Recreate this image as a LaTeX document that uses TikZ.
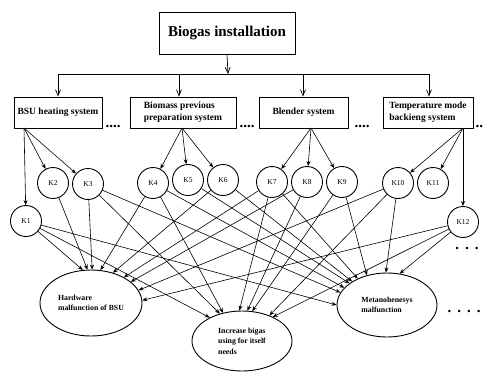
\documentclass[tikz,border=0pt]{standalone}
\usepackage{fontspec}
\setmainfont{Liberation Serif}
\usetikzlibrary{shapes.geometric,arrows.meta}
\begin{document}
\begin{tikzpicture}[x=1pt,y=-1pt,
  sysbox/.style={draw,line width=0.9pt,inner sep=0pt,align=left,font=\bfseries\fontsize{9.5}{12}\selectfont},
  kcirc/.style={circle,draw,line width=0.9pt,minimum size=31pt,inner sep=0pt,font=\fontsize{7.5}{8}\selectfont},
  outc/.style={ellipse,draw,line width=0.9pt,inner sep=0pt,align=left,font=\bfseries\fontsize{7.8}{10.5}\selectfont},
  topar/.style={-{Straight Barb[length=6pt,width=5pt]},line width=0.7pt},
  kar/.style={-{Stealth[length=5pt,width=4pt]},line width=0.6pt},
  dotsn/.style={anchor=base,inner sep=0pt,font=\bfseries\fontsize{15}{15}\selectfont}
]
\useasboundingbox (0,0) rectangle (484,372);

% top and system boxes
\node[sysbox,minimum width=136pt,minimum height=42pt,font=\bfseries\fontsize{15}{16}\selectfont] (top) at (227,33) {Biogas installation};
\node[sysbox,minimum width=88pt,minimum height=31pt] (b1) at (58,112.5) {BSU heating system};
\node[sysbox,minimum width=106pt,minimum height=31pt] (b2) at (183,112.5) {Biomass previous\\preparation system};
\node[sysbox,minimum width=89pt,minimum height=31pt] (b3) at (303.5,112.5) {Blender system};
\node[sysbox,minimum width=90pt,minimum height=31pt] (b4) at (428,112.5) {Temperature mode\\backieng system};

\coordinate (j0) at (228,74);
\coordinate (j1) at (58,74);
\coordinate (j2) at (179,74);
\coordinate (j3) at (303,74);
\coordinate (j4) at (429,74);
\draw[topar] (top.south) -- (j0);
\draw[line width=0.7pt] (j1) -- (j4);
\foreach \i in {1,2,3,4} \draw[topar] (j\i) -- (j\i |- b\i.north);

% dots
\node[dotsn] (d1) at (113,127) {....};
\node[dotsn] (d2) at (247,127) {....};
\node[dotsn] (d3) at (362,127) {....};
\node[dotsn,anchor=base west] (d4) at (475.5,127) {..};
\node[dotsn] (d5) at (467,249) {.\hspace{6pt}.\hspace{6pt}.};
\node[dotsn] (d6) at (464,312) {.\hspace{6pt}.\hspace{6pt}.\hspace{6pt}.};

% factor circles
\node[kcirc] (K1) at (26,221) {K1};
\node[kcirc] (K2) at (53,183) {K2};
\node[kcirc] (K3) at (88,184) {K3};
\node[kcirc] (K4) at (153,183) {K4};
\node[kcirc] (K5) at (188,180) {K5};
\node[kcirc] (K6) at (223,180) {K6};
\node[kcirc] (K7) at (272,182) {K7};
\node[kcirc] (K8) at (307,182) {K8};
\node[kcirc] (K9) at (342,182) {K9};
\node[kcirc] (K10) at (398,183) {K10};
\node[kcirc] (K11) at (433,183) {K11};
\node[kcirc] (K12) at (463,222) {K12};

\coordinate (s1) at (24,128);
\coordinate (s2) at (182,128);
\coordinate (s3) at (311,128);
\coordinate (s4) at (463,128);
\foreach \k in {1,2,3} \draw[kar] (s1) -- (K\k);
\foreach \k in {4,5,6} \draw[kar] (s2) -- (K\k);
\foreach \k in {7,8,9} \draw[kar] (s3) -- (K\k);
\foreach \k in {10,11,12} \draw[kar] (s4) -- (K\k);

% outcomes
\node[outc,minimum width=102pt,minimum height=66pt] (H) at (91,303) {Hardware\\malfunction of BSU};
\node[outc,minimum width=100pt,minimum height=60pt] (I) at (242,341) {Increase bigas\\using for itself\\needs};
\node[outc,minimum width=100pt,minimum height=64pt] (M) at (387,305) {Metanohenesys\\malfunction};

\foreach \k/\a in {1/104,2/96,3/88,4/74,6/54,7/38,8/28,10/15,12/3}
  \draw[kar] (K\k) -- (H.\a);
\foreach \k/\a in {1/144,3/129,4/124,7/95,8/80,9/71,10/43,12/38}
  \draw[kar] (K\k) -- (I.\a);
\foreach \k/\a in {1/180,3/165,4/158,5/150,6/146,7/138,9/124,10/92,12/68}
  \draw[kar] (K\k) -- (M.\a);
\end{tikzpicture}
\end{document}
